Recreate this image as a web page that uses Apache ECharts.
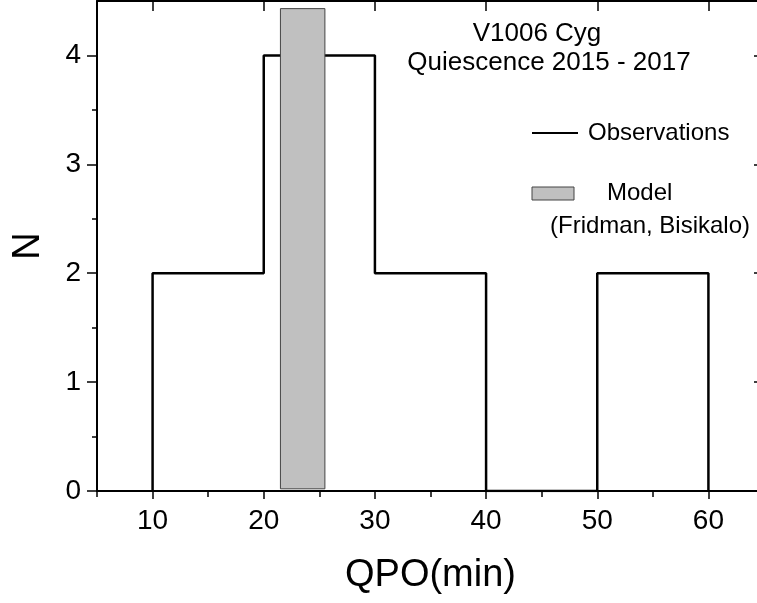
<!DOCTYPE html>
<html>
<head>
<meta charset="utf-8">
<script src="https://cdn.jsdelivr.net/npm/echarts@6/dist/echarts.min.js"></script>
<style>
html,body{margin:0;padding:0;background:#fff;}
#chart{width:757px;height:603px;}
</style>
</head>
<body>
<div id="chart"></div>
<script>
// ---- data ----
const binEdges = [10, 20, 30, 40, 50, 60];
const counts = [2, 4, 2, 0, 2];
const modelRange = [21.5, 25.5];      // QPO (min) range of the model band
const modelHeight = [0.02, 4.43];     // N range covered by the model band
const xMajorTicks = [10, 20, 30, 40, 50, 60];
const xMinorTicks = [5, 15, 25, 35, 45, 55, 65];
const yMajorTicks = [0, 1, 2, 3, 4];
const yMinorTicks = [0.5, 1.5, 2.5, 3.5];
const titleLines = ['V1006 Cyg', 'Quiescence 2015 - 2017'];
const legendObs = 'Observations';
const legendModel = ['Model', '(Fridman, Bisikalo)'];

// step outline of histogram built from bins
const stepPts = [];
stepPts.push([binEdges[0], 0]);
for (let i = 0; i < counts.length; i++) {
  stepPts.push([binEdges[i], counts[i]]);
  stepPts.push([binEdges[i + 1], counts[i]]);
}
stepPts.push([binEdges[binEdges.length - 1], 0]);

const FONT = "'Liberation Sans', Arial, Helvetica, sans-serif";
const chart = echarts.init(document.getElementById('chart'), null, {renderer: 'canvas'});

const axisLine = {show: true, onZero: false, lineStyle: {color: '#000', width: 2}};

const option = {
  animation: false,
  backgroundColor: '#fff',
  grid: {left: 97, right: -7, top: 1, bottom: 112, containLabel: false, outerBoundsMode: 'none'},
  xAxis: [
    { // bottom main
      type: 'value', min: 5, max: 65, position: 'bottom',
      axisLine: axisLine,
      axisTick: {show: true, inside: false, length: 8, lineStyle: {color: '#000', width: 1.5}, customValues: xMajorTicks},
      axisLabel: {show: true, margin: 16, fontSize: 28, color: '#000', fontFamily: FONT, customValues: xMajorTicks},
      splitLine: {show: false},
      name: 'QPO(min)', nameLocation: 'middle', nameGap: 66,
      nameTextStyle: {fontSize: 38, color: '#000', fontFamily: FONT}
    },
    { // bottom minor ticks
      type: 'value', min: 5, max: 65, position: 'bottom',
      axisLine: {show: false},
      axisTick: {show: true, inside: false, length: 5, lineStyle: {color: '#000', width: 1.5}, customValues: xMinorTicks},
      axisLabel: {show: false},
      splitLine: {show: false}
    },
    { // top frame
      type: 'value', min: 5, max: 65, position: 'top',
      axisLine: axisLine,
      axisTick: {show: true, inside: true, length: 10, lineStyle: {color: '#000', width: 1.5}, customValues: xMajorTicks},
      axisLabel: {show: false},
      splitLine: {show: false}
    },
    { // top minor
      type: 'value', min: 5, max: 65, position: 'top',
      axisLine: {show: false},
      axisTick: {show: true, inside: true, length: 6, lineStyle: {color: '#000', width: 1.5}, customValues: xMinorTicks},
      axisLabel: {show: false},
      splitLine: {show: false}
    }
  ],
  yAxis: [
    {
      type: 'value', min: 0, max: 4.5, position: 'left',
      axisLine: axisLine,
      axisTick: {show: true, inside: false, length: 10, lineStyle: {color: '#000', width: 1.5}, customValues: yMajorTicks},
      axisLabel: {show: true, margin: 16, fontSize: 28, color: '#000', fontFamily: FONT, customValues: yMajorTicks},
      splitLine: {show: false},
      name: 'N', nameLocation: 'middle', nameGap: 49, nameRotate: 90,
      nameTextStyle: {fontSize: 38, color: '#000', fontFamily: FONT}
    },
    {
      type: 'value', min: 0, max: 4.5, position: 'left',
      axisLine: {show: false},
      axisTick: {show: true, inside: false, length: 5, lineStyle: {color: '#000', width: 1.5}, customValues: yMinorTicks},
      axisLabel: {show: false},
      splitLine: {show: false}
    },
    {
      type: 'value', min: 0, max: 4.5, position: 'right',
      axisLine: axisLine,
      axisTick: {show: true, inside: true, length: 10, lineStyle: {color: '#000', width: 1.5}, customValues: yMajorTicks},
      axisLabel: {show: false},
      splitLine: {show: false}
    }
  ],
  series: [
    {
      name: legendObs,
      type: 'line',
      xAxisIndex: 0, yAxisIndex: 0,
      data: stepPts,
      symbol: 'none',
      lineStyle: {color: '#000', width: 2.5},
      z: 2
    },
    {
      name: legendModel[0],
      type: 'custom',
      xAxisIndex: 0, yAxisIndex: 0,
      data: [[modelRange[0], modelRange[1], modelHeight[0], modelHeight[1]]],
      renderItem: function (params, api) {
        const p0 = api.coord([api.value(0), api.value(3)]);
        const p1 = api.coord([api.value(1), api.value(2)]);
        return {
          type: 'rect',
          shape: {x: p0[0], y: p0[1], width: p1[0] - p0[0], height: p1[1] - p0[1]},
          style: {fill: '#c0c0c0', stroke: '#444', lineWidth: 1}
        };
      },
      z: 3
    }
  ],
  graphic: [
    {type: 'text', x: 537, y: 34, style: {text: titleLines[0], fontSize: 26, fontFamily: FONT, fill: '#000', align: 'center', verticalAlign: 'middle'}},
    {type: 'text', x: 549, y: 63, style: {text: titleLines[1], fontSize: 26, fontFamily: FONT, fill: '#000', align: 'center', verticalAlign: 'middle'}},
    {type: 'line', shape: {x1: 532, y1: 133, x2: 578, y2: 133}, style: {stroke: '#000', lineWidth: 2}},
    {type: 'text', x: 588, y: 133, style: {text: legendObs, fontSize: 24, fontFamily: FONT, fill: '#000', align: 'left', verticalAlign: 'middle'}},
    {type: 'rect', shape: {x: 532, y: 187, width: 42, height: 13}, style: {fill: '#c0c0c0', stroke: '#444', lineWidth: 1}},
    {type: 'text', x: 607, y: 193, style: {text: legendModel[0], fontSize: 24, fontFamily: FONT, fill: '#000', align: 'left', verticalAlign: 'middle'}},
    {type: 'text', x: 550, y: 226, style: {text: legendModel[1], fontSize: 24, fontFamily: FONT, fill: '#000', align: 'left', verticalAlign: 'middle'}}
  ]
};
chart.setOption(option);
</script>
</body>
</html>
